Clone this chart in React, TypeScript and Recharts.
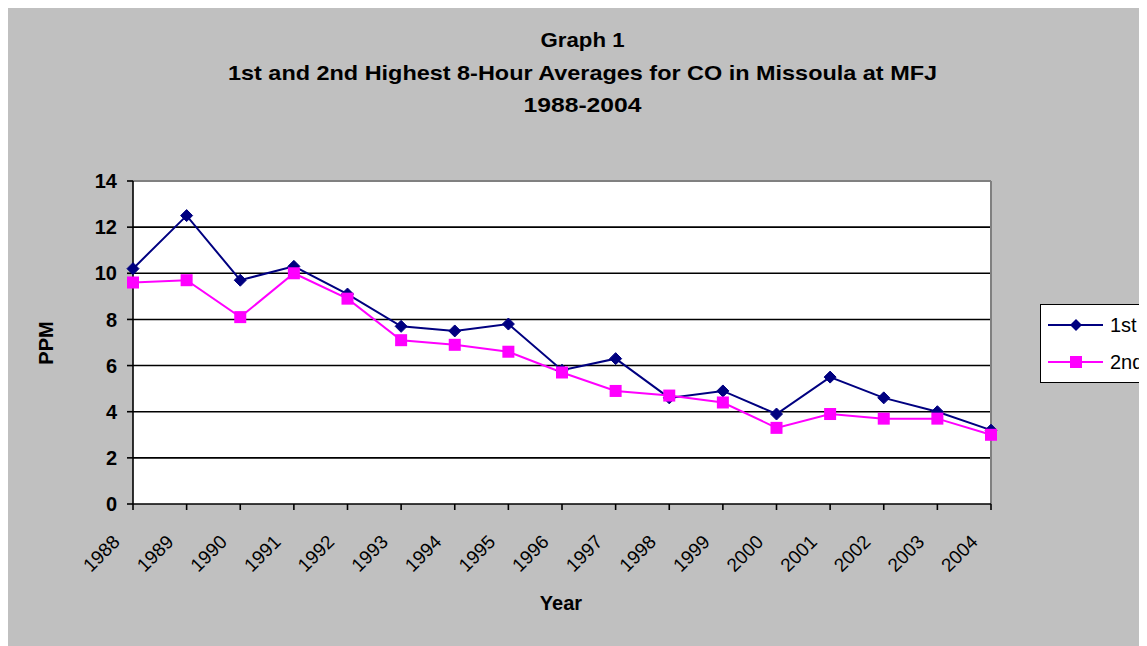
import React from "react";
import {
  CartesianGrid,
  Line,
  LineChart,
  ReferenceLine,
  XAxis,
  YAxis,
} from "recharts";

const years = [
  "1988", "1989", "1990", "1991", "1992", "1993", "1994", "1995", "1996",
  "1997", "1998", "1999", "2000", "2001", "2002", "2003", "2004",
];
const first = [10.2, 12.5, 9.7, 10.3, 9.1, 7.7, 7.5, 7.8, 5.8, 6.3, 4.6, 4.9, 3.9, 5.5, 4.6, 4.0, 3.2];
const second = [9.6, 9.7, 8.1, 10.0, 8.9, 7.1, 6.9, 6.6, 5.7, 4.9, 4.7, 4.4, 3.3, 3.9, 3.7, 3.7, 3.0];
const yTicks = [0, 2, 4, 6, 8, 10, 12, 14];
const titleLines = [
  "Graph 1",
  "1st and 2nd Highest 8-Hour Averages for CO in Missoula at MFJ",
  "1988-2004",
];

const data = years.map((year, i) => ({ year, first: first[i], second: second[i] }));

const FONT = "'Liberation Sans', Arial, sans-serif";
const NAVY = "#000080";
const MAGENTA = "#FF00FF";
const W = 1142;
const H = 639;

function Diamond(props: any) {
  const { cx, cy } = props;
  if (cx == null || cy == null) return null;
  const r = 6;
  return (
    <polygon
      points={`${cx},${cy - r} ${cx + r},${cy} ${cx},${cy + r} ${cx - r},${cy}`}
      fill={NAVY}
      stroke={NAVY}
    />
  );
}

function Square(props: any) {
  const { cx, cy } = props;
  if (cx == null || cy == null) return null;
  const h = 6;
  return <rect x={cx - h} y={cy - h} width={h * 2} height={h * 2} fill={MAGENTA} />;
}

function YearTick(props: any) {
  const { x, y, payload } = props;
  const tx = x - 12;
  const ty = y + 31;
  return (
    <text
      x={tx}
      y={ty}
      transform={`rotate(-45, ${tx}, ${ty})`}
      textAnchor="end"
      fontSize={19}
      fontFamily={FONT}
      fill="#000"
    >
      {payload.value}
    </text>
  );
}

// titles, axis titles and legend drawn on top of the chart
function Overlay() {
  const rows = [
    { name: "1st", color: NAVY, y: 318 },
    { name: "2nd", color: MAGENTA, y: 355 },
  ];
  const widths = [84, 709, 118];
  return (
    <svg
      width={W}
      height={H}
      style={{ position: "absolute", left: 0, top: 0, pointerEvents: "none" }}
      fontFamily={FONT}
    >
      {titleLines.map((t, i) => (
        <text
          key={i}
          x={577.5}
          y={40 + i * 32.5}
          textAnchor="middle"
          fontSize={21}
          fontWeight="bold"
          textLength={widths[i]}
          lengthAdjust="spacingAndGlyphs"
          fill="#000"
        >
          {t}
        </text>
      ))}
      <text x={556} y={603} textAnchor="middle" fontSize={20} fontWeight="bold" fill="#000">
        Year
      </text>
      <text
        x={48}
        y={336}
        transform="rotate(-90, 48, 336)"
        textAnchor="middle"
        fontSize={20}
        fontWeight="bold"
        fill="#000"
      >
        PPM
      </text>
      <rect x={1035.5} y={297.5} width={140} height={78} fill="#fff" stroke="#000" strokeWidth={1} />
      {rows.map((r, i) => (
        <g key={r.name}>
          <line x1={1043} y1={r.y} x2={1098} y2={r.y} stroke={r.color} strokeWidth={2} />
          {i === 0 ? (
            <polygon
              points={`1071,${r.y - 6} 1077,${r.y} 1071,${r.y + 6} 1065,${r.y}`}
              fill={r.color}
            />
          ) : (
            <rect x={1065} y={r.y - 6} width={12} height={12} fill={r.color} />
          )}
          <text x={1105} y={r.y + 7} fontSize={20} fill="#000">
            {r.name}
          </text>
        </g>
      ))}
    </svg>
  );
}

export default function App() {
  return (
    <div
      style={{
        position: "relative",
        width: W,
        height: H,
        marginLeft: -3,
        marginTop: -1,
        background: "#C0C0C0",
        overflow: "hidden",
      }}
    >
      <LineChart
        width={W}
        height={H}
        data={data}
        margin={{ top: 174, right: 156, left: 0, bottom: 0 }}
        style={{ position: "absolute", left: 0, top: 0 }}
      >
        <CartesianGrid
          vertical={false}
          horizontalValues={[2, 4, 6, 8, 10, 12]}
          stroke="#000"
          strokeWidth={1.6}
          fill="#fff"
          fillOpacity={1}
        />
        <ReferenceLine y={14} stroke="#808080" strokeWidth={2} />
        <ReferenceLine x="2004" stroke="#808080" strokeWidth={2} />
        <XAxis
          dataKey="year"
          height={142}
          interval={0}
          axisLine={{ stroke: "#000", strokeWidth: 1.6 }}
          tickLine={{ stroke: "#000", strokeWidth: 1.6 }}
          tickSize={6}
          tick={<YearTick />}
        />
        <YAxis
          width={128}
          domain={[0, 14]}
          ticks={yTicks}
          interval={0}
          axisLine={{ stroke: "#000", strokeWidth: 1.6 }}
          tickLine={{ stroke: "#000", strokeWidth: 1.6 }}
          tickSize={6}
          tickMargin={10}
          tick={{ fontSize: 20, fontWeight: "bold", fill: "#000", fontFamily: FONT }}
        />
        <Line
          dataKey="first"
          name="1st"
          stroke={NAVY}
          strokeWidth={2}
          dot={<Diamond />}
          activeDot={false}
          isAnimationActive={false}
        />
        <Line
          dataKey="second"
          name="2nd"
          stroke={MAGENTA}
          strokeWidth={2}
          dot={<Square />}
          activeDot={false}
          isAnimationActive={false}
        />
      </LineChart>
      <Overlay />
    </div>
  );
}
